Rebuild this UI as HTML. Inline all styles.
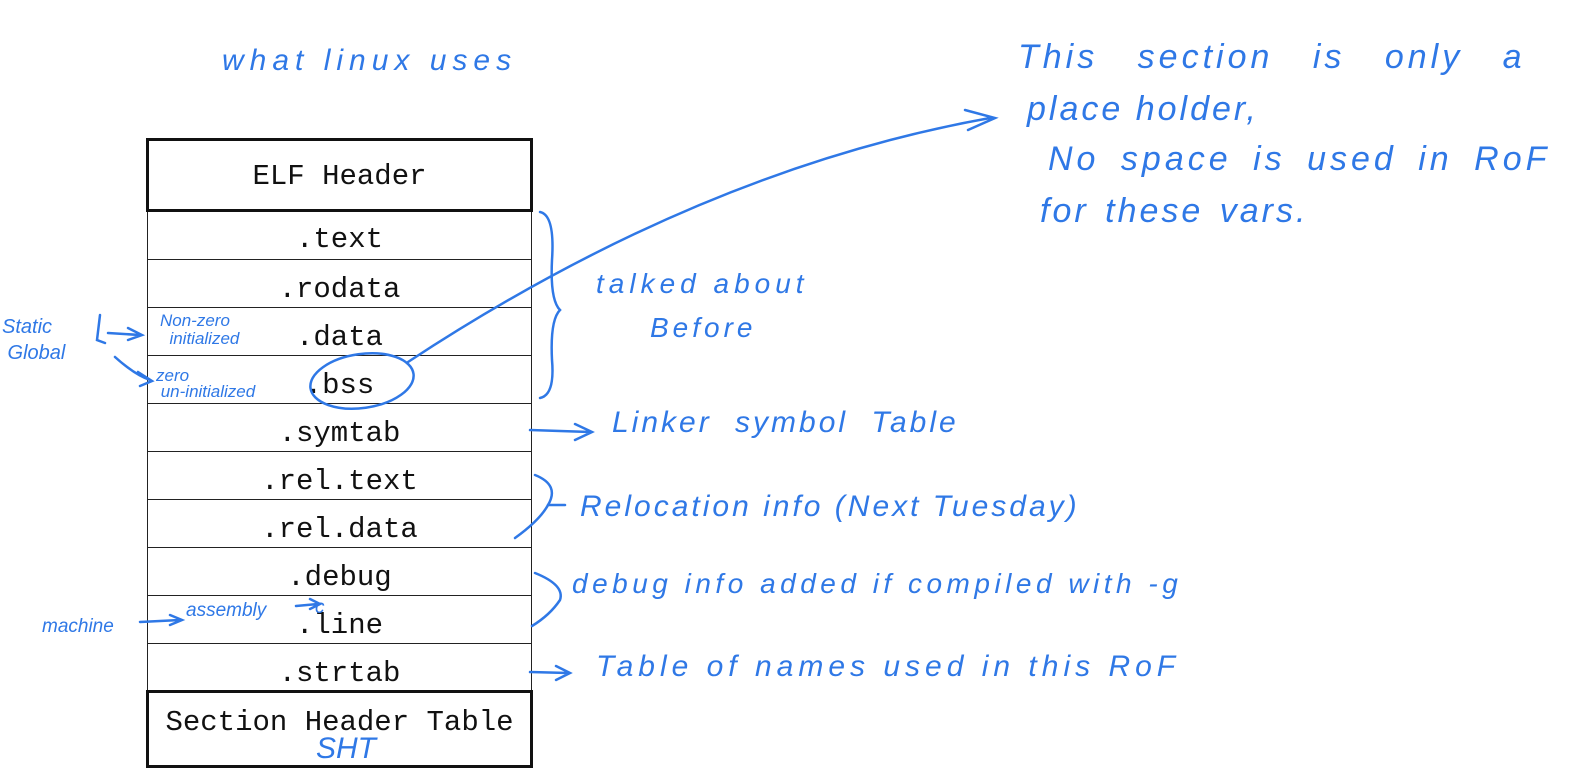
<!DOCTYPE html>
<html><head><meta charset="utf-8"><style>
body{margin:0;width:1586px;height:784px;background:#fff;position:relative;overflow:hidden;font-family:"Liberation Mono",monospace}
.r{position:absolute;left:147px;width:385px;border-top:1.5px solid #222;box-sizing:border-box;text-align:center;font-size:29px;color:#111}
.b{position:absolute;left:146px;width:387px;border:3px solid #111;box-sizing:border-box;text-align:center;font-size:29px;color:#111;background:#fff}
.h{position:absolute;color:#2f78e6;font-family:"Liberation Sans",sans-serif;font-style:italic;white-space:nowrap}
</style></head><body>
<div style="position:absolute;left:147px;top:211px;width:385px;height:480px;border-left:1.5px solid #222;border-right:1.5px solid #222;box-sizing:border-box"></div>
<div class="b" style="top:138px;height:74px;line-height:72px">ELF Header</div>
<div class="r" style="top:211px;height:48px;line-height:58px;border-top:none">.text</div>
<div class="r" style="top:259px;height:48px;line-height:60px">.rodata</div>
<div class="r" style="top:307px;height:48px;line-height:60px">.data</div>
<div class="r" style="top:355px;height:48px;line-height:60px">.bss</div>
<div class="r" style="top:403px;height:48px;line-height:60px">.symtab</div>
<div class="r" style="top:451px;height:48px;line-height:60px">.rel.text</div>
<div class="r" style="top:499px;height:48px;line-height:60px">.rel.data</div>
<div class="r" style="top:547px;height:48px;line-height:60px">.debug</div>
<div class="r" style="top:595px;height:48px;line-height:60px">.line</div>
<div class="r" style="top:643px;height:48px;line-height:60px">.strtab</div>
<div class="b" style="top:690px;height:78px;line-height:60px">Section Header Table</div>

<div class="h" style="left:222px;top:44px;font-size:30px;letter-spacing:6px">what linux uses</div>
<div class="h" style="left:1018px;top:38px;font-size:34px;letter-spacing:4px;word-spacing:26px">This section is only a</div>
<div class="h" style="left:1027px;top:90px;font-size:34px;letter-spacing:3px">place holder,</div>
<div class="h" style="left:1048px;top:140px;font-size:34px;letter-spacing:4px;word-spacing:8px">No space is used in RoF</div>
<div class="h" style="left:1040px;top:192px;font-size:34px;letter-spacing:3px;word-spacing:4px">for these vars.</div>
<div class="h" style="left:596px;top:268px;font-size:28px;letter-spacing:5px">talked about</div>
<div class="h" style="left:650px;top:312px;font-size:28px;letter-spacing:4px">Before</div>
<div class="h" style="left:612px;top:406px;font-size:30px;letter-spacing:3px;word-spacing:12px">Linker symbol Table</div>
<div class="h" style="left:580px;top:490px;font-size:30px;letter-spacing:3px">Relocation info (Next Tuesday)</div>
<div class="h" style="left:572px;top:568px;font-size:28px;letter-spacing:4.5px">debug info added if compiled with -g</div>
<div class="h" style="left:596px;top:650px;font-size:30px;letter-spacing:5px">Table of names used in this RoF</div>
<div class="h" style="left:2px;top:314px;font-size:20px;line-height:26px">Static<br>&nbsp;Global</div>
<div class="h" style="left:160px;top:312px;font-size:17px;line-height:18px">Non-zero<br>&nbsp;&nbsp;initialized</div>
<div class="h" style="left:156px;top:368px;font-size:17px;line-height:16px">zero<br>&nbsp;un-initialized</div>
<div class="h" style="left:42px;top:616px;font-size:19px">machine</div>
<div class="h" style="left:186px;top:600px;font-size:19px">assembly</div>
<div class="h" style="left:315px;top:597px;font-size:19px">c</div>
<div class="h" style="left:316px;top:732px;font-size:30px">SHT</div>

<svg width="1586" height="784" style="position:absolute;left:0;top:0" fill="none" stroke="#2f78e6" stroke-width="2.5" stroke-linecap="round">
<path d="M540 212 Q555 215 552 260 Q550 300 560 310 Q550 320 552 360 Q555 395 540 398"/>
<path d="M530 430 L590 432 M575 424 L592 432 L575 440"/>
<path d="M535 475 Q560 485 548 505 Q540 520 515 538"/>
<path d="M548 505 L565 505"/>
<path d="M535 573 Q565 585 560 600 Q550 615 532 626"/>
<path d="M530 672 L568 673 M556 666 L570 673 L556 680"/>
<path d="M408 362 Q700 170 990 118 M965 110 L995 118 L968 130"/>
<ellipse cx="362" cy="381" rx="52" ry="27" transform="rotate(-8 362 381)"/>
<path d="M100 315 L97 340 L105 343 M108 333 L140 335 M128 328 L142 335 L128 340"/>
<path d="M115 357 Q135 375 150 380 M138 372 L152 381 L140 386"/>
<path d="M140 622 L180 620 M170 615 L182 620 L170 625"/>
<path d="M296 606 L318 604 M310 599 L320 604 L310 609"/>
</svg>
</body></html>
